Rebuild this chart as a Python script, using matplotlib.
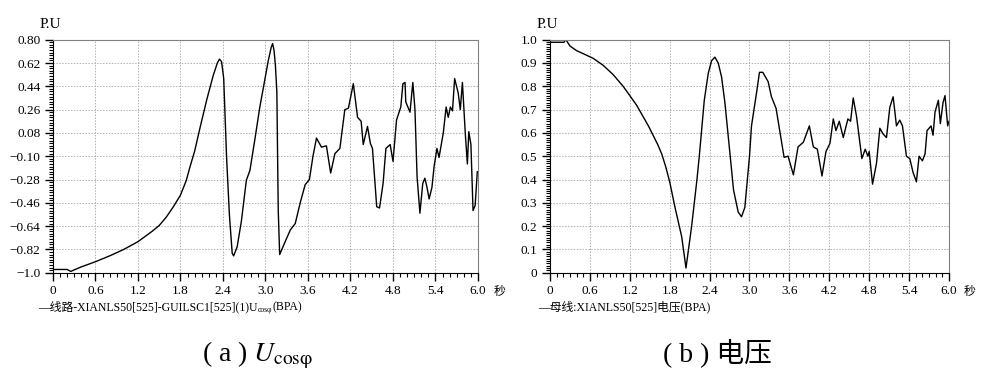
import matplotlib
matplotlib.use("Agg")
import matplotlib.pyplot as plt
from matplotlib.ticker import MultipleLocator

plt.rcParams['font.family'] = ['Liberation Serif', 'Noto Sans CJK SC']
plt.rcParams['mathtext.fontset'] = 'stix'

# ---- (a) U_cosφ ----
t_a = [0, 0.2, 0.25, 0.4, 0.6, 0.8, 1.0, 1.2, 1.4, 1.5, 1.6, 1.7, 1.8, 1.88, 1.93,
       2.0, 2.08, 2.17, 2.26, 2.32, 2.35, 2.38, 2.41, 2.45, 2.49, 2.53, 2.55, 2.6,
       2.66, 2.73, 2.78, 2.85, 2.92, 2.99, 3.04, 3.08, 3.10, 3.12, 3.14, 3.16, 3.18,
       3.20, 3.27, 3.35, 3.42, 3.49, 3.56, 3.62, 3.67, 3.72, 3.79, 3.86, 3.92, 3.98,
       4.05, 4.12, 4.17, 4.24, 4.30, 4.35, 4.38, 4.44, 4.48, 4.51, 4.57, 4.61, 4.66,
       4.70, 4.76, 4.80, 4.85, 4.91, 4.94, 4.97, 4.98, 5.04, 5.08, 5.11, 5.14, 5.18,
       5.22, 5.25, 5.28, 5.31, 5.35, 5.38, 5.42, 5.45, 5.51, 5.55, 5.58, 5.61, 5.64,
       5.67, 5.72, 5.75, 5.78, 5.82, 5.85, 5.87, 5.90, 5.93, 5.96, 5.99]
u_a = [-0.975, -0.975, -0.99, -0.955, -0.915, -0.87, -0.82, -0.76, -0.68, -0.635, -0.57,
       -0.49, -0.40, -0.29, -0.19, -0.06, 0.13, 0.335, 0.52, 0.62, 0.65, 0.63, 0.50,
       -0.10, -0.55, -0.85, -0.87, -0.80, -0.60, -0.285, -0.21, 0.03, 0.28, 0.49, 0.64,
       0.74, 0.77, 0.72, 0.60, 0.40, -0.52, -0.86, -0.77, -0.67, -0.62, -0.46, -0.32,
       -0.28, -0.10, 0.04, -0.03, -0.02, -0.23, -0.08, -0.04, 0.26, 0.27, 0.46, 0.20,
       0.17, -0.01, 0.13, 0.0, -0.04, -0.49, -0.50, -0.31, -0.04, -0.01, -0.14, 0.18,
       0.28, 0.46, 0.47, 0.32, 0.24, 0.47, 0.26, -0.26, -0.54, -0.31, -0.27, -0.34,
       -0.43, -0.34, -0.18, -0.04, -0.11, 0.08, 0.28, 0.20, 0.28, 0.25, 0.50, 0.39,
       0.26, 0.47, 0.08, -0.16, 0.09, -0.01, -0.52, -0.48, -0.22]
yt_a = [0.80, 0.62, 0.44, 0.26, 0.08, -0.10, -0.28, -0.46, -0.64, -0.82, -1.0]
yl_a = ['0.80', '0.62', '0.44', '0.26', '0.08', '\u22120.10', '\u22120.28', '\u22120.46',
        '\u22120.64', '\u22120.82', '\u22121.0']

# ---- (b) 电压 ----
t_b = [0, 0.21, 0.24, 0.30, 0.40, 0.5, 0.65, 0.8, 0.95, 1.1, 1.20, 1.30, 1.40, 1.48,
       1.55, 1.62, 1.68, 1.74, 1.80, 1.88, 1.98,
       2.045, 2.13, 2.21, 2.245, 2.32, 2.38, 2.43, 2.48, 2.53, 2.58, 2.63, 2.71, 2.76,
       2.83, 2.88, 2.93, 3.0, 3.03, 3.11, 3.15, 3.20, 3.28, 3.33, 3.40, 3.46, 3.52,
       3.58, 3.66, 3.73, 3.81, 3.90, 3.96, 4.02, 4.09, 4.15, 4.21, 4.26, 4.30, 4.35,
       4.41, 4.48, 4.52, 4.56, 4.61, 4.69, 4.74, 4.78, 4.80, 4.85, 4.91, 4.96, 5.01,
       5.06, 5.11, 5.16, 5.21, 5.26, 5.30, 5.36, 5.41, 5.46, 5.51, 5.55, 5.60, 5.64,
       5.67, 5.73, 5.76, 5.79, 5.84, 5.87, 5.91, 5.94, 5.98, 6.0]
u_b = [0.989, 0.989, 1.0, 0.973, 0.953, 0.94, 0.92, 0.89, 0.85, 0.80, 0.76, 0.72, 0.67,
       0.63, 0.59, 0.55, 0.51, 0.455, 0.39, 0.28,
       0.155, 0.02, 0.20, 0.40, 0.50, 0.74, 0.856, 0.91, 0.925, 0.90, 0.84, 0.73, 0.50,
       0.355, 0.26, 0.24, 0.28, 0.50, 0.63, 0.78, 0.86, 0.86, 0.82, 0.755, 0.705, 0.60,
       0.495, 0.50, 0.42, 0.54, 0.56, 0.63, 0.54, 0.53, 0.415, 0.52, 0.555, 0.66, 0.61,
       0.65, 0.58, 0.66, 0.65, 0.75, 0.67, 0.49, 0.53, 0.50, 0.52, 0.38, 0.47, 0.62,
       0.595, 0.58, 0.71, 0.755, 0.63, 0.655, 0.63, 0.50, 0.49, 0.43, 0.39, 0.50, 0.48,
       0.51, 0.61, 0.63, 0.59, 0.69, 0.74, 0.64, 0.73, 0.76, 0.63, 0.65]
yt_b = [1.0, 0.9, 0.8, 0.7, 0.6, 0.5, 0.4, 0.3, 0.2, 0.1, 0]
yl_b = ['1.0', '0.9', '0.8', '0.7', '0.6', '0.5', '0.4', '0.3', '0.2', '0.1', '0']

xt = [0, 0.6, 1.2, 1.8, 2.4, 3.0, 3.6, 4.2, 4.8, 5.4, 6.0]
xl = ['0', '0.6', '1.2', '1.8', '2.4', '3.0', '3.6', '4.2', '4.8', '5.4', '6.0']


def style_axes(ax, yticks, ylabels, ymin, ymax, yminor):
    ax.set_xlim(0, 6.0)
    ax.set_ylim(ymin, ymax)
    ax.set_xticks(xt)
    ax.set_xticklabels(xl)
    ax.set_yticks(yticks)
    ax.set_yticklabels(ylabels)
    ax.xaxis.set_minor_locator(MultipleLocator(0.1))
    ax.yaxis.set_minor_locator(MultipleLocator(yminor))
    ax.tick_params(which='major', length=6, width=1.0, labelsize=9.5, pad=3)
    ax.tick_params(which='minor', length=3, width=0.8)
    ax.grid(True, which='major', color='#b0b0b0', linestyle=(0, (1.5, 1.5)), linewidth=0.7)
    for s in ['top', 'right']:
        ax.spines[s].set_color('#808080')
    for s in ['left', 'bottom']:
        ax.spines[s].set_color('black')
    ax.set_axisbelow(True)


fig = plt.figure(figsize=(9.87, 3.77), dpi=100)
W, H = 987.0, 377.0

ax1 = fig.add_axes([53 / W, 1 - 272.7 / H, 425 / W, 233 / H])
ax1.plot(t_a, u_a, color='black', linewidth=1.0)
style_axes(ax1, yt_a, yl_a, -1.0, 0.80, 0.02)

ax2 = fig.add_axes([550 / W, 1 - 272.7 / H, 399 / W, 233 / H])
ax2.plot(t_b, u_b, color='black', linewidth=1.0)
style_axes(ax2, yt_b, yl_b, 0, 1.0, 0.01)

# axis unit labels
fig.text(50 / W, 1 - 24 / H, 'P.U', fontsize=11, ha='center', va='center')
fig.text(547 / W, 1 - 24 / H, 'P.U', fontsize=11, ha='center', va='center')
fig.text(500 / W, 1 - 292 / H, '秒', fontsize=8.5, ha='center', va='center')
fig.text(970 / W, 1 - 292 / H, '秒', fontsize=8.5, ha='center', va='center')

# legend lines
t1 = fig.text(38 / W, 1 - 310 / H, '—线路-XIANLS50[525]-GUILSC1[525](1)U',
              fontsize=8.5, ha='left', va='baseline')
fig.canvas.draw()
rend = fig.canvas.get_renderer()
bb = t1.get_window_extent(rend)
t2 = fig.text(bb.x1 / W + 0.5 / W, 1 - 312 / H, 'cosφ', fontsize=5.5,
              ha='left', va='baseline')
bb2 = t2.get_window_extent(rend)
fig.text(bb2.x1 / W + 0.5 / W, 1 - 310 / H, '(BPA)', fontsize=8.5,
         ha='left', va='baseline')
fig.text(538 / W, 1 - 310 / H, '—母线:XIANLS50[525]电压(BPA)',
         fontsize=8.5, ha='left', va='baseline')

# captions
fig.text(258 / W, 1 - 361 / H, r'( a ) $U_{\mathrm{cos\varphi}}$', fontsize=20,
         ha='center', va='baseline')
fig.text(717 / W, 1 - 361 / H, '( b ) 电压', fontsize=20, ha='center', va='baseline')

fig.savefig('out.png', dpi=100)
